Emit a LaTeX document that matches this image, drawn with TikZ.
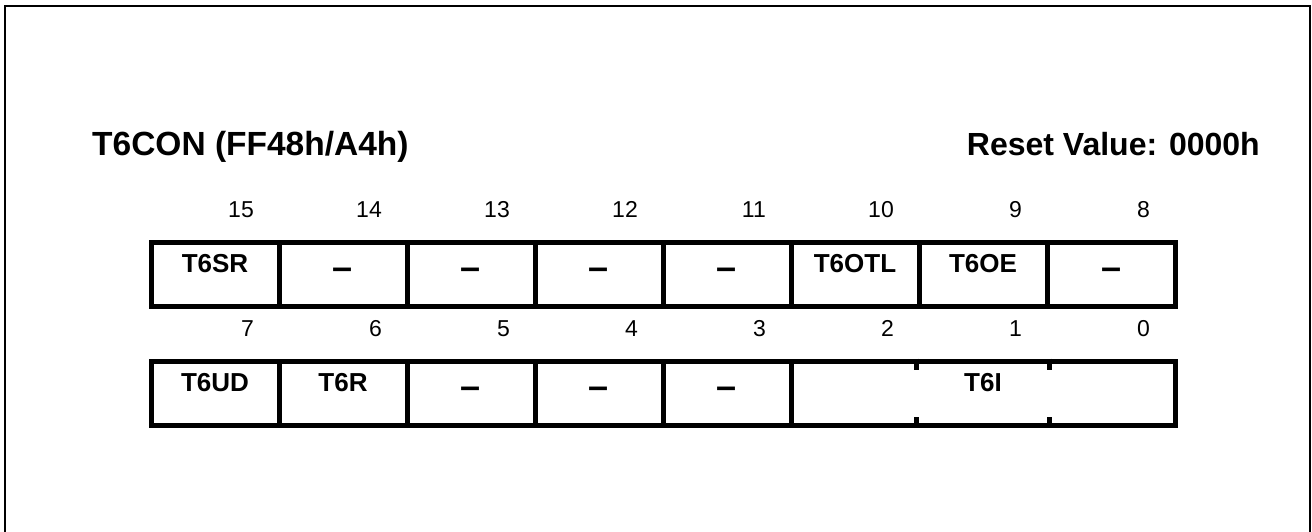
\documentclass[tikz,border=0pt]{standalone}
\usepackage{fontspec}
\setmainfont{Liberation Sans}
\begin{document}
\begin{tikzpicture}[x=1pt,y=-1pt,
  bitcell/.style={draw,line width=5pt,minimum width=128pt,minimum height=64pt,inner sep=0pt},
  bitname/.style={font=\fontsize{26}{30}\selectfont\bfseries,anchor=base,inner sep=0pt},
  reserved/.style={font=\fontsize{36}{40}\selectfont\bfseries,anchor=base,inner sep=0pt},
  bitnum/.style={font=\fontsize{23}{27}\selectfont,anchor=base east,inner sep=0pt},
  headline/.style={font=\fontsize{33.5}{38}\selectfont\bfseries,inner sep=0pt}]
\useasboundingbox (0,0) rectangle (1312,532);

%frame
\draw[line width=2pt] (5,532) -- (5,6.5) -- (1310,6.5) -- (1310,532);

%title
\node[headline,anchor=base west] (title) at (92,156) {T6CON (FF48h/A4h)};
\node[headline,anchor=base east,font=\fontsize{32}{38}\selectfont\bfseries] (reset) at (1260,156) {Reset Value: 0000h};

%upper byte
\foreach \b/\t [count=\i from 0] in {15/T6SR,10/T6OTL,9/T6OE} {
  \pgfmathtruncatemacro\p{15-\b}
  \node[bitname] (n\b) at (215+128*\p,272) {\t};
}
\foreach \b [count=\i from 0] in {15,14,13,12,11,10,9,8} {
  \node[bitcell] (c\b) at (215+128*\i,274) {};
  \node[bitnum] (k\b) at (254+128*\i,217) {\b};
}
\foreach \b in {14,13,12,11,8}
  \node[reserved] (n\b) at (c\b.center) [yshift=-5pt] {--};

%lower byte
\foreach \b/\t [count=\i from 0] in {7/T6UD,6/T6R} {
  \node[bitcell] (c\b) at (215+128*\i,393) {};
  \node[bitname] (n\b) at (215+128*\i,391) {\t};
}
\foreach \b [count=\i from 2] in {5,4,3} {
  \node[bitcell] (c\b) at (215+128*\i,393) {};
  \node[reserved] (n\b) at (c\b.center) [yshift=-5pt] {--};
}
\foreach \b [count=\i from 0] in {7,6,5,4,3,2,1,0}
  \node[bitnum] (k\b) at (254+128*\i,336) {\b};

%T6I field, bits 2..0
\node[bitcell,minimum width=384pt] (c210) at (983,393) {};
\node[bitname] (n1) at (983,391) {T6I};
\draw[line width=5pt] ([xshift=128pt]c210.north west) -- ++(0,11);
\draw[line width=5pt] ([xshift=-128pt]c210.north east) -- ++(0,11);
\draw[line width=5pt] ([xshift=128pt]c210.south west) -- ++(0,-11);
\draw[line width=5pt] ([xshift=-128pt]c210.south east) -- ++(0,-11);
\end{tikzpicture}
\end{document}
